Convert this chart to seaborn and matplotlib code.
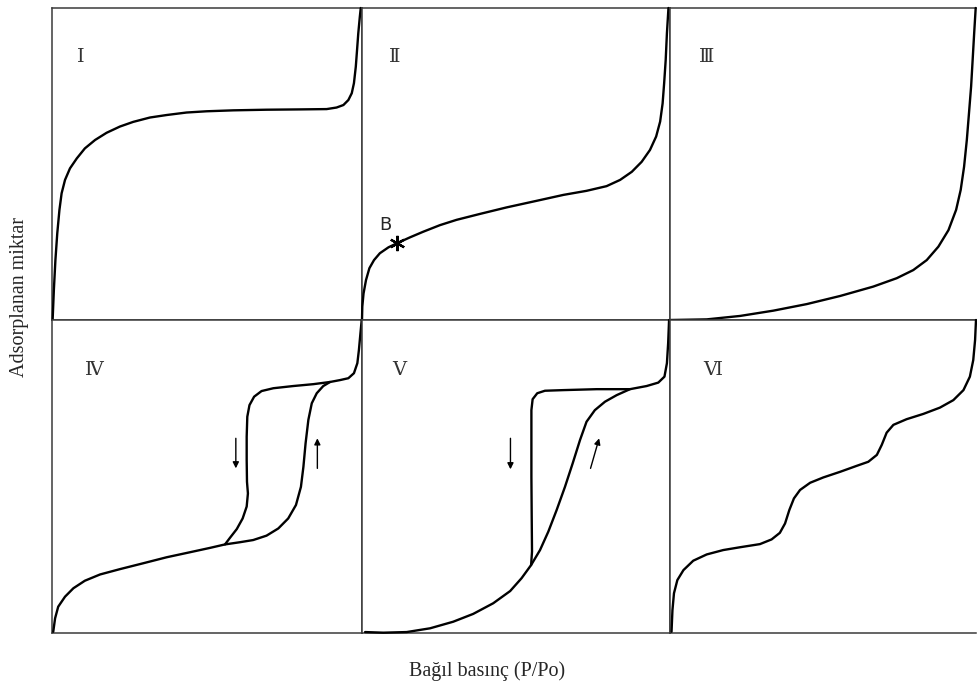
import matplotlib.pyplot as plt
import seaborn as sns

sns.set_theme(style="white")
plt.rcParams['font.family'] = ['Liberation Serif', 'DejaVu Serif']

# Izoterm tipleri (x: bağıl basınç P/Po, y: adsorplanan miktar, 0-1 ölçeğinde)
tip1_x = [0.002, 0.006, 0.011, 0.017, 0.024, 0.031, 0.042, 0.058, 0.080, 0.106,
          0.139, 0.176, 0.219, 0.262, 0.316, 0.370, 0.434, 0.499, 0.585, 0.692,
          0.800, 0.886, 0.918, 0.940, 0.956, 0.967, 0.974, 0.980, 0.984, 0.988,
          0.993, 0.996]
tip1_y = [0.0, 0.096, 0.192, 0.278, 0.353, 0.406, 0.449, 0.486, 0.518, 0.550,
          0.577, 0.600, 0.620, 0.635, 0.649, 0.657, 0.665, 0.669, 0.672, 0.674,
          0.675, 0.676, 0.681, 0.689, 0.705, 0.727, 0.759, 0.812, 0.865, 0.919,
          0.972, 1.0]

tip2_x = [0.0, 0.001, 0.005, 0.013, 0.024, 0.039, 0.058, 0.086, 0.118, 0.156,
          0.199, 0.253, 0.307, 0.383, 0.470, 0.567, 0.654, 0.729, 0.794, 0.838,
          0.876, 0.908, 0.935, 0.955, 0.968, 0.976, 0.981, 0.986, 0.990, 0.995]
tip2_y = [0.0, 0.043, 0.085, 0.128, 0.166, 0.192, 0.214, 0.233, 0.248, 0.265,
          0.283, 0.304, 0.321, 0.340, 0.361, 0.382, 0.401, 0.414, 0.429, 0.449,
          0.475, 0.507, 0.545, 0.588, 0.636, 0.694, 0.759, 0.833, 0.919, 1.0]

tip3_x = [0.002, 0.120, 0.229, 0.338, 0.447, 0.556, 0.664, 0.741, 0.795, 0.839,
          0.877, 0.910, 0.935, 0.950, 0.961, 0.970, 0.977, 0.984, 0.989, 0.994,
          0.999]
tip3_y = [0.0, 0.002, 0.013, 0.030, 0.051, 0.077, 0.107, 0.134, 0.160, 0.192,
          0.235, 0.288, 0.353, 0.417, 0.491, 0.577, 0.662, 0.748, 0.833, 0.919,
          1.0]

tip4_ads_x = [0.004, 0.010, 0.020, 0.042, 0.069, 0.106, 0.155, 0.219, 0.295, 0.370,
              0.445, 0.510, 0.558, 0.606, 0.649, 0.692, 0.730, 0.762, 0.787, 0.803,
              0.811, 0.818, 0.827, 0.838, 0.854, 0.875, 0.897, 0.929, 0.956, 0.974,
              0.985, 0.990, 0.995, 0.999]
tip4_ads_y = [0.004, 0.047, 0.084, 0.116, 0.143, 0.167, 0.187, 0.204, 0.223, 0.242,
              0.258, 0.272, 0.283, 0.290, 0.297, 0.311, 0.334, 0.366, 0.409, 0.467,
              0.531, 0.606, 0.681, 0.734, 0.766, 0.789, 0.802, 0.808, 0.814, 0.830,
              0.862, 0.904, 0.958, 1.0]
tip4_des_x = [0.897, 0.843, 0.778, 0.714, 0.676, 0.652, 0.637, 0.630, 0.628, 0.628,
              0.629, 0.632, 0.628, 0.615, 0.596, 0.574, 0.558]
tip4_des_y = [0.802, 0.795, 0.789, 0.782, 0.773, 0.755, 0.728, 0.691, 0.627, 0.553,
              0.483, 0.446, 0.404, 0.366, 0.332, 0.304, 0.283]

tip5_ads_x = [0.010, 0.069, 0.145, 0.221, 0.296, 0.361, 0.426, 0.481, 0.518, 0.549,
              0.578, 0.605, 0.632, 0.659, 0.684, 0.708, 0.729, 0.756, 0.789, 0.827,
              0.870, 0.924, 0.962, 0.982, 0.990, 0.994, 0.997]
tip5_ads_y = [0.003, 0.001, 0.003, 0.015, 0.036, 0.061, 0.095, 0.134, 0.175, 0.217,
              0.265, 0.324, 0.393, 0.467, 0.542, 0.617, 0.675, 0.712, 0.739, 0.760,
              0.779, 0.789, 0.800, 0.819, 0.862, 0.926, 1.0]
tip5_des_x = [0.870, 0.762, 0.654, 0.594, 0.569, 0.554, 0.550, 0.550, 0.550, 0.551,
              0.552, 0.549]
tip5_des_y = [0.779, 0.779, 0.776, 0.774, 0.766, 0.747, 0.712, 0.606, 0.499, 0.372,
              0.260, 0.217]

tip6_x = [0.005, 0.008, 0.013, 0.024, 0.044, 0.076, 0.120, 0.174, 0.229, 0.294,
          0.332, 0.359, 0.376, 0.390, 0.405, 0.425, 0.458, 0.501, 0.556, 0.610,
          0.648, 0.676, 0.692, 0.708, 0.730, 0.773, 0.828, 0.882, 0.926, 0.959,
          0.980, 0.991, 0.997, 1.0]
tip6_y = [0.004, 0.073, 0.127, 0.169, 0.201, 0.231, 0.251, 0.265, 0.274, 0.284,
          0.299, 0.320, 0.350, 0.393, 0.430, 0.457, 0.480, 0.497, 0.515, 0.534,
          0.547, 0.569, 0.601, 0.640, 0.665, 0.683, 0.700, 0.720, 0.744, 0.776,
          0.819, 0.872, 0.936, 1.0]

# Histerezis okları: (x başlangıç, y başlangıç, x bitiş, y bitiş)
oklar_iv = [(0.593, 0.622, 0.593, 0.526), (0.856, 0.526, 0.856, 0.622)]
oklar_v = [(0.482, 0.622, 0.482, 0.523), (0.742, 0.526, 0.770, 0.622)]

# B noktası (Tip II)
b_nokta = (0.115, 0.246)

etiketler = ["\u2160", "\u2161", "\u2162", "\u2163", "\u2164", "\u2165"]
etiket_x = [0.080, 0.088, 0.095, 0.106, 0.098, 0.110]
etiket_y = [0.843, 0.843, 0.843, 0.840, 0.840, 0.840]

fig = plt.figure(figsize=(9.77, 6.86), dpi=100)
gs = fig.add_gridspec(2, 3, left=52 / 977, right=976 / 977, top=1 - 8 / 686,
                      bottom=1 - 633 / 686, wspace=0, hspace=0,
                      width_ratios=[310, 308, 306], height_ratios=[312, 313])
axes = [fig.add_subplot(gs[i // 3, i % 3]) for i in range(6)]

egriler = [
    [(tip1_x, tip1_y)],
    [(tip2_x, tip2_y)],
    [(tip3_x, tip3_y)],
    [(tip4_ads_x, tip4_ads_y), (tip4_des_x, tip4_des_y)],
    [(tip5_ads_x, tip5_ads_y), (tip5_des_x, tip5_des_y)],
    [(tip6_x, tip6_y)],
]

for i, ax in enumerate(axes):
    for xs, ys in egriler[i]:
        sns.lineplot(x=xs, y=ys, sort=False, estimator=None, color="black",
                     linewidth=1.7, ax=ax, clip_on=False, zorder=3,
                     solid_joinstyle="round", solid_capstyle="round")
    ax.set_xlim(0, 1)
    ax.set_ylim(0, 1)
    ax.set_xticks([])
    ax.set_yticks([])
    ax.set_xlabel("")
    ax.set_ylabel("")
    for s in ax.spines.values():
        s.set_color("#3a3a3a")
        s.set_linewidth(1.1)
    if i % 3 == 2:
        ax.spines["right"].set_visible(False)
    ax.text(etiket_x[i], etiket_y[i], etiketler[i], transform=ax.transAxes,
            fontsize=14, family=["DejaVu Serif"], ha="left", va="center",
            color="#333333")

for ax, oklar in [(axes[3], oklar_iv), (axes[4], oklar_v)]:
    for x0, y0, x1, y1 in oklar:
        ax.annotate("", xy=(x1, y1), xytext=(x0, y0),
                    arrowprops=dict(arrowstyle="-|>", color="black", lw=1.0,
                                    mutation_scale=9, shrinkA=0, shrinkB=0))

axes[1].plot(b_nokta[0], b_nokta[1], marker=(6, 2, 0), markersize=11,
             markeredgewidth=1.6, color="black", zorder=4)
axes[1].text(0.075, 0.304, "B", transform=axes[1].transAxes, fontsize=13,
             family=["DejaVu Sans"], ha="center", va="center")

fig.text(20 / 977, 1 - 297 / 686, "Adsorplanan miktar", rotation=90,
         ha="center", va="center", fontsize=14.5)
fig.text(487 / 977, 1 - 671 / 686, "Ba\u011f\u0131l bas\u0131n\u00e7 (P/Po)",
         ha="center", va="center", fontsize=14.5)

plt.savefig("out.png", dpi=100)
plt.close()
